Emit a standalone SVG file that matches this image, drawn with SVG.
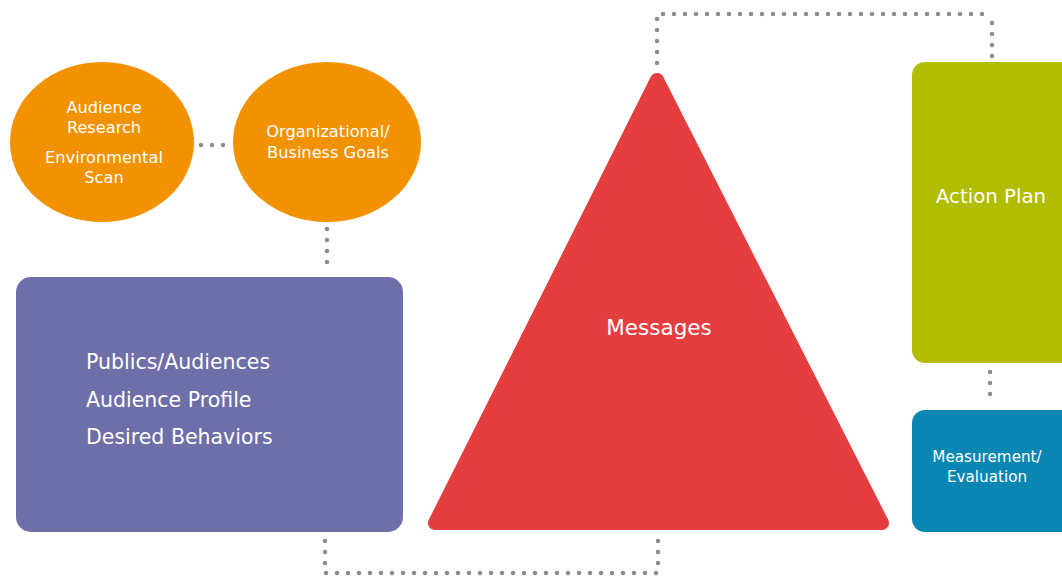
<svg xmlns="http://www.w3.org/2000/svg" width="1062" height="577" viewBox="0 0 1062 577">
<style>
.dot{fill:none;stroke:#8c8c8c;stroke-width:4.5;stroke-linecap:round;stroke-dasharray:0 11}
.t{font-family:"DejaVu Sans","Liberation Sans",Arial,sans-serif;fill:#ffffff}
.s16{font-size:16.2px}
.s20{font-size:20.5px}
</style>
<rect width="1062" height="577" fill="#ffffff"/>
<g id="connectors">
<path class="dot" d="M201 145 H229"/>
<path class="dot" d="M327 229 V271"/>
<path class="dot" d="M657 63 V14 H992"/>
<path class="dot" d="M992 56 V14"/>
<path class="dot" d="M990 372 V405"/>
<path class="dot" d="M325 541 V573 H658"/>
<path class="dot" d="M658 541 V573"/>
</g>
<g id="audience-research">
<ellipse cx="102" cy="142" rx="92" ry="80" fill="#f39200"/>
<text class="t s16" text-anchor="middle" x="104" y="113">Audience</text>
<text class="t s16" text-anchor="middle" x="104" y="133">Research</text>
<text class="t s16" text-anchor="middle" x="104" y="163">Environmental</text>
<text class="t s16" text-anchor="middle" x="104" y="183">Scan</text>
</g>
<g id="business-goals">
<ellipse cx="327" cy="142" rx="94" ry="80" fill="#f39200"/>
<text class="t s16" text-anchor="middle" x="328" y="137">Organizational/</text>
<text class="t s16" text-anchor="middle" x="328" y="158">Business Goals</text>
</g>
<g id="publics">
<rect x="16" y="277" width="387" height="255" rx="15" fill="#6e6ea9"/>
<text class="t s20" x="86" y="369">Publics/Audiences</text>
<text class="t s20" x="86" y="407">Audience Profile</text>
<text class="t s20" x="86" y="444">Desired Behaviors</text>
</g>
<g id="messages">
<polygon points="657,80 435,523 882,523" fill="#e53e41" stroke="#e53e41" stroke-width="14" stroke-linejoin="round"/>
<text class="t" font-size="21.5" text-anchor="middle" x="659" y="335">Messages</text>
</g>
<g id="action-plan">
<rect x="912" y="62" width="170" height="301" rx="13" fill="#b0bd00"/>
<text class="t" font-size="19.8" text-anchor="middle" x="991" y="203">Action Plan</text>
</g>
<g id="measurement">
<rect x="912" y="410" width="170" height="122" rx="13" fill="#0a86b3"/>
<text class="t" font-size="15.2" text-anchor="middle" x="987" y="462">Measurement/</text>
<text class="t" font-size="15.2" text-anchor="middle" x="987" y="482">Evaluation</text>
</g>
</svg>
